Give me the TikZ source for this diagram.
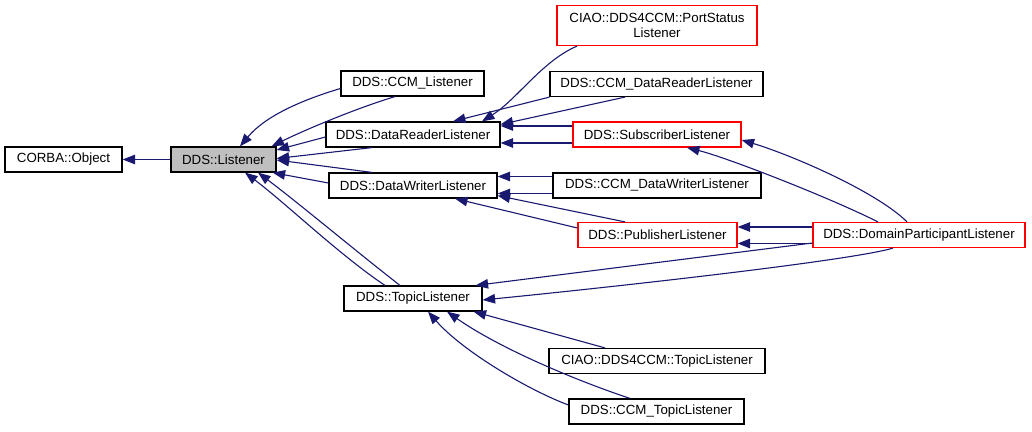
\documentclass[tikz,border=0pt]{standalone}
\usepackage{fontspec}
\setmainfont{Liberation Sans}
\usetikzlibrary{arrows.meta,calc}
\definecolor{edgeblue}{HTML}{191970}
\definecolor{redbox}{HTML}{FF0000}
\definecolor{graybox}{HTML}{BFBFBF}
\tikzset{
  cls/.style={draw=black, line width=1.2pt, fill=white, minimum height=25pt, inner sep=0pt,
    font=\fontsize{13.3}{15.5}\selectfont, align=center},
  redcls/.style={cls, draw=redbox},
  inh/.style={draw=edgeblue, line width=1.1pt, -{Triangle[length=12.5pt,width=9.5pt]}, fill=none},
}
\begin{document}
\begin{tikzpicture}[x=1pt,y=-1pt]
\useasboundingbox (0,0) rectangle (1032,431);
% nodes
\node[cls, minimum width=117pt] (corba) at (63.5,159.5) {CORBA::Object};
\node[cls, minimum width=105pt, fill=graybox] (lis) at (223.5,159.5) {DDS::Listener};
\node[cls, minimum width=143pt] (ccml) at (412.5,83.5) {DDS::CCM\_Listener};
\node[cls, minimum width=174pt] (drl) at (413,134.5) {DDS::DataReaderListener};
\node[cls, minimum width=168pt] (dwl) at (413,185.5) {DDS::DataWriterListener};
\node[cls, minimum width=138pt] (tl) at (413,298.5) {DDS::TopicListener};
\node[redcls, minimum width=200pt, minimum height=40pt] (psl) at (657,25.5) {CIAO::DDS4CCM::PortStatus\\Listener};
\node[cls, minimum width=213pt] (ccmdrl) at (656.5,84) {DDS::CCM\_DataReaderListener};
\node[redcls, minimum width=168pt] (sl) at (657,134.5) {DDS::SubscriberListener};
\node[cls, minimum width=208pt] (ccmdwl) at (657,185.5) {DDS::CCM\_DataWriterListener};
\node[redcls, minimum width=159pt] (pl) at (657.5,235) {DDS::PublisherListener};
\node[cls, minimum width=216pt] (ciaotl) at (657,361) {CIAO::DDS4CCM::TopicListener};
\node[cls, minimum width=175pt] (ccmtl) at (656.5,411.5) {DDS::CCM\_TopicListener};
\node[redcls, minimum width=212pt] (dpl) at (919,235) {DDS::DomainParticipantListener};
% edges
\draw[inh] (lis.west) -- (corba.east);
\draw[inh] ($(ccml.west)+(0,5)$) .. controls +(-40,12) and +(25,-30) .. ($(lis.north)+(16.5,0)$);
\draw[inh] ($(ccml.south)+(-17.5,0)$) .. controls +(-40,12) and +(30,-15) .. ($(lis.north east)+(-5,0)$);
\draw[inh] ($(drl.west)+(0,2.5)$) -- ($(lis.east)+(0,-9.5)$);
\draw[inh] ($(drl.south)+(-41,0)$) -- ($(lis.east)+(0,-1)$);
\draw[inh] ($(dwl.north)+(-41,0)$) -- ($(lis.east)+(0,0.5)$);
\draw[inh] ($(dwl.west)+(0,-2.5)$) -- ($(lis.south east)+(-4,0)$);
\draw[inh] ($(tl.north)+(-28,0)$) .. controls +(-45,-30) and +(40,30) .. ($(lis.south)+(21.5,0)$);
\draw[inh] ($(tl.north)+(-13,0)$) .. controls +(-45,-35) and +(40,30) .. ($(lis.south)+(34.5,0)$);
\draw[inh] ($(psl.south)+(-80,0)$) .. controls +(-35,15) and +(35,-22) .. ($(drl.north)+(69,0)$);
\draw[inh] (ccmdrl.south west) -- ($(drl.north)+(40,0)$);
\draw[inh] ($(ccmdrl.south)+(-31.5,0)$) -- ($(drl.north east)+(0,3)$);
\draw[inh] ($(sl.west)+(0,-8.5)$) -- ($(drl.east)+(0,-8.5)$);
\draw[inh] ($(sl.west)+(0,8.5)$) -- ($(drl.east)+(0,8.5)$);
\draw[inh] ($(ccmdwl.west)+(0,-9)$) -- ($(dwl.east)+(0,-9)$);
\draw[inh] ($(ccmdwl.west)+(0,8)$) -- ($(dwl.east)+(0,8)$);
\draw[inh] ($(pl.north)+(-32.5,0)$) -- ($(dwl.south east)+(0,-3)$);
\draw[inh] ($(pl.west)+(0,-7)$) -- ($(dwl.south)+(42,0)$);
\draw[inh] ($(dpl.north)+(-12,0)$) .. controls +(-30,-30) and +(50,15) .. ($(sl.east)+(0,5.5)$);
\draw[inh] ($(dpl.north)+(-41,0)$) .. controls +(-50,-25) and +(40,10) .. ($(sl.south)+(30,0)$);
\draw[inh] ($(dpl.west)+(0,-8)$) -- ($(pl.east)+(0,-8)$);
\draw[inh] ($(dpl.west)+(0,8.5)$) -- ($(pl.east)+(0,8.5)$);
\draw[inh] ($(dpl.west)+(0,8)$) -- ($(tl.north east)+(-7,0)$);
\draw[inh] ($(dpl.south)+(-26,0)$) .. controls +(-40,12) and +(150,-15) .. ($(tl.east)+(0,1.5)$);
\draw[inh] ($(ciaotl.north)+(-52,0)$) -- ($(tl.south east)+(-9,0)$);
\draw[inh] ($(ccmtl.north)+(-26.5,0)$) .. controls +(-60,-20) and +(50,35) .. ($(tl.south)+(34,0)$);
\draw[inh] ($(ccmtl.west)+(0,-6.5)$) .. controls +(-40,-15) and +(35,40) .. ($(tl.south)+(15,0)$);
\end{tikzpicture}
\end{document}
